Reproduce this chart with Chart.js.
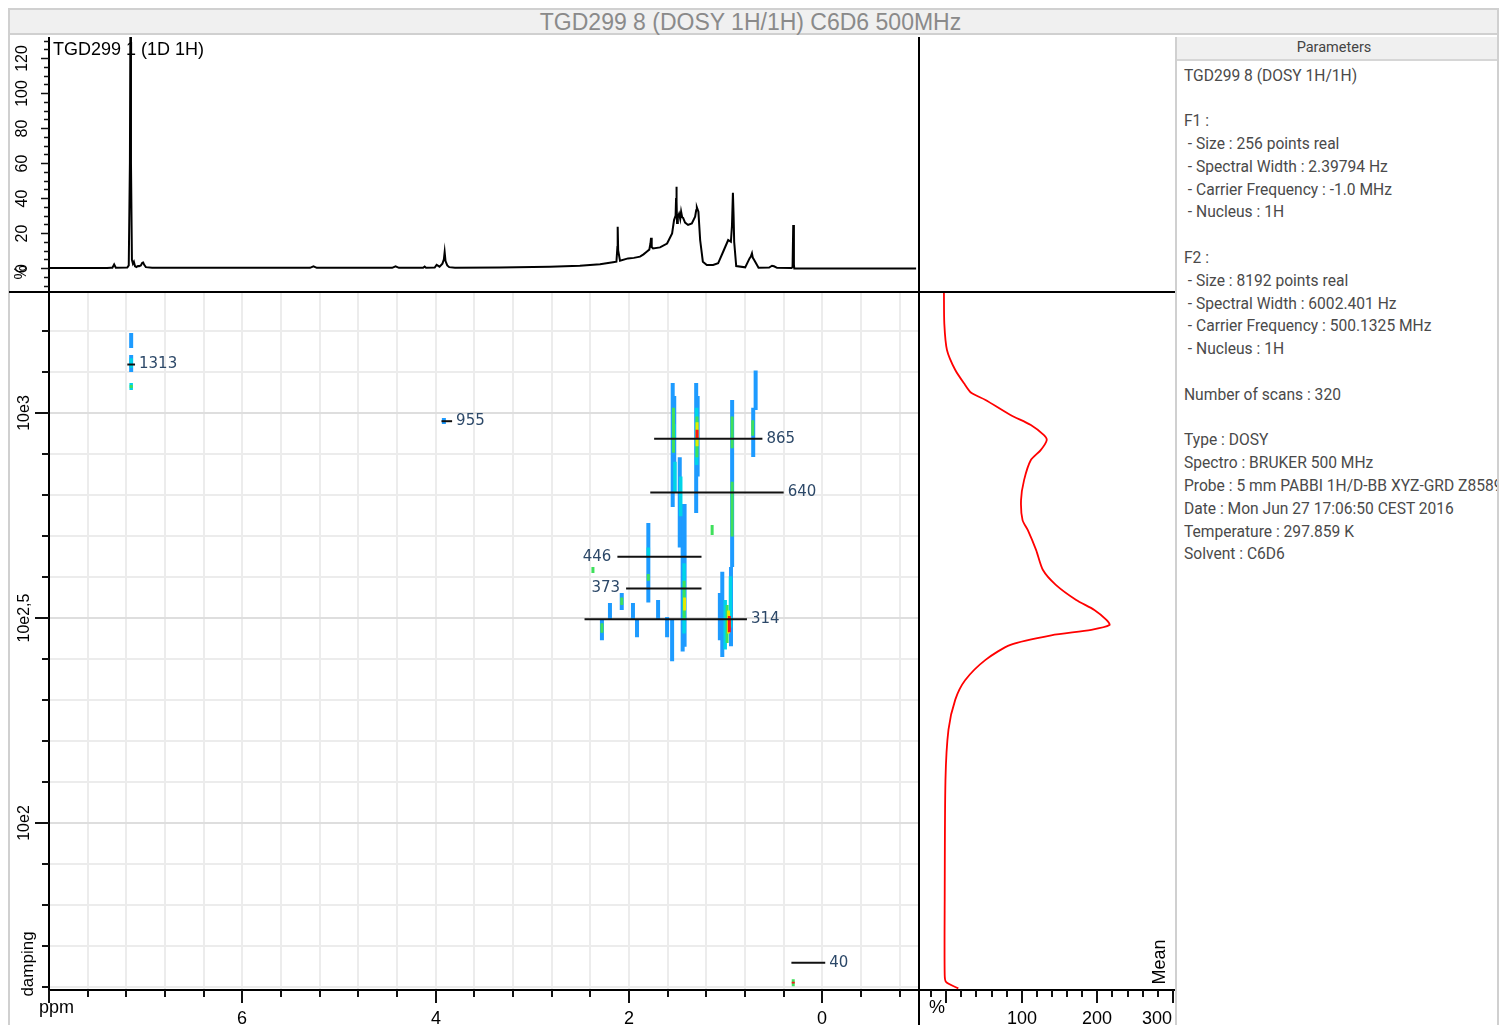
<!DOCTYPE html>
<html>
<head>
<meta charset="utf-8">
<script src="https://cdn.jsdelivr.net/npm/chart.js@4.4.0/dist/chart.umd.min.js"></script>
<style>
  body { margin: 0; background: #fff; width: 1504px; height: 1025px; overflow: hidden; font-family: "Liberation Sans", Arial, sans-serif; }
  .abs { position: absolute; }
  #frame { left: 8px; top: 8px; width: 1491px; height: 1100px; border: 2px solid #d0d0d0; box-sizing: border-box; }
  #title { left: 10px; top: 10px; width: 1487px; height: 25px; background: #f0f0f0; border-bottom: 2px solid #d0d0d0;
           color: #8a8a8a; font-size: 23px; line-height: 25px; text-align: center; padding-right: 6px; box-sizing: border-box; }
  #params { left: 1175px; top: 37px; width: 322px; height: 1000px; border-left: 2px solid #d0d0d0; overflow: hidden; box-sizing: border-box; }
  #params .head { height: 22px; background: #f0f0f0; border-bottom: 2px solid #d6d6d6; text-align: center; font-family: Roboto, sans-serif;
                  font-size: 14.5px; line-height: 22px; color: #444; padding-right: 6px; }
  #params .body { position: absolute; left: 7px; top: 27.6px; white-space: pre; font-family: Roboto, sans-serif; font-size: 15.6px;
                  line-height: 22.8px; color: #4a4a4a; }
  .blk { background: #000; }
</style>
</head>
<body>
<div id="frame" class="abs"></div>
<div id="title" class="abs">TGD299 8 (DOSY 1H/1H) C6D6 500MHz</div>

<canvas id="spec" class="abs" width="910" height="255" style="left:9px;top:37px"></canvas>
<canvas id="dosy" class="abs" width="910" height="733" style="left:9px;top:292px"></canvas>
<canvas id="mean" class="abs" width="256" height="733" style="left:919px;top:292px"></canvas>

<div class="abs blk" style="left:9px;top:291px;width:1166px;height:2px"></div>
<div class="abs blk" style="left:918px;top:37px;width:2px;height:990px"></div>

<div id="params" class="abs">
  <div class="head">Parameters</div>
  <div class="body">TGD299 8 (DOSY 1H/1H)

F1 :
 - Size : 256 points real
 - Spectral Width : 2.39794 Hz
 - Carrier Frequency : -1.0 MHz
 - Nucleus : 1H

F2 :
 - Size : 8192 points real
 - Spectral Width : 6002.401 Hz
 - Carrier Frequency : 500.1325 MHz
 - Nucleus : 1H

Number of scans : 320

Type : DOSY
Spectro : BRUKER 500 MHz
Probe : 5 mm PABBI 1H/D-BB XYZ-GRD Z8589
Date : Mon Jun 27 17:06:50 CEST 2016
Temperature : 297.859 K
Solvent : C6D6</div>
</div>

<script>
// 1D proton spectrum (top trace), ppm / % intensity
var specPpm = [8.00, 7.40, 7.36, 7.344, 7.326, 7.309, 7.19, 7.175, 7.163, 7.158, 7.152, 7.142, 7.132, 7.122, 7.11, 7.095,
  7.08, 7.067, 7.05, 7.035, 7.026, 7.015, 6.998, 6.933, 6.5, 5.30, 5.264, 5.23, 4.45, 4.415, 4.38, 4.13, 4.114, 4.10,
  4.01, 3.99, 3.96, 3.93, 3.915, 3.907, 3.898, 3.88, 3.86, 3.80, 3.337, 2.819, 2.508, 2.30, 2.166, 2.13, 2.120, 2.117,
  2.112, 2.093, 2.010, 1.95, 1.886, 1.85, 1.817, 1.79, 1.778, 1.772, 1.765, 1.751, 1.679, 1.606, 1.554, 1.534, 1.518,
  1.513, 1.510, 1.506, 1.503, 1.495, 1.482, 1.47, 1.461, 1.45, 1.440, 1.42, 1.389, 1.35, 1.316, 1.305, 1.298, 1.282, 1.264,
  1.236, 1.195, 1.130, 1.078, 1.026, 0.974, 0.946, 0.935, 0.925, 0.918, 0.912, 0.891, 0.798, 0.753, 0.740, 0.728, 0.72,
  0.705, 0.660, 0.55, 0.521, 0.50, 0.469, 0.32, 0.308, 0.301, 0.294, 0.290, -0.97];
var specInt = [0, 0, 0.2, 0.2, 2.1, 0.2, 0.3, 1.5, 60, 140, 60, 4.6, 2.5, 3.6, 1.0, 0.6,
  1.2, 1.1, 1.5, 3.0, 3.2, 1.8, 0.5, 0.2, 0.1, 0.1, 1.0, 0.1, 0.1, 1.0, 0.1, 0.1, 0.8, 0.1,
  0.3, 1.8, 0.8, 2.5, 5, 9.1, 4, 1.5, 0.5, 0.2, 0.3, 0.7, 1.3, 2.2, 3.3, 3.6, 12, 23.6,
  10, 4.2, 5.5, 5.8, 6.5, 7.8, 9.3, 10.5, 14, 17.3, 12, 11.2, 11.8, 14, 19.8, 27.4, 30,
  40, 46.5, 38, 25.7, 29, 31, 28, 32.2, 29, 28.6, 26, 24.6, 25.5, 29.3, 33, 34.7, 32.2, 16,
  3.6, 1.7, 1.7, 2.7, 9.3, 16, 15, 24, 43, 30, 15, 1.1, 0.4, 5.5, 6.5, 8.4, 6,
  4.6, 0.2, 0.3, 1.3, 1.0, 0.1, 0, 0.5, 24.6, 2, -0.3, -0.3];

// DOSY contour streaks: chemical shift (ppm), diffusion range (top / bottom), contour level 0..4
var streakPpm = [7.15, 7.15, 7.15, 7.15, 7.15, 3.915,
  1.548, 1.532, 1.540, 1.535, 1.525,
  1.475, 1.465, 1.445, 1.425, 1.43, 1.43, 1.425,
  1.305, 1.290, 1.300, 1.297, 1.296, 1.296,
  0.933, 0.933, 0.933,
  0.69, 0.715, 0.72,
  1.06, 1.035, 1.005, 0.985, 0.97, 0.962, 0.945, 0.95,
  1.80, 1.80, 1.80,
  1.554, 1.606, 1.699, 1.917, 1.959, 2.075, 2.075, 2.197, 2.28, 2.28, 2.373, 1.14,
  0.301, 0.301];
var streakTop = [1567, 1385, 1360, 1184, 1170, 972,
  1184, 1100, 1030, 940, 760,
  780, 700, 600, 600, 430, 390, 355,
  1184, 1100, 1030, 980, 950, 910,
  1076, 980, 680,
  1270, 1030, 960,
  364, 410, 350, 340, 330, 320, 421, 400,
  539, 470, 405,
  313, 318, 350, 313, 344, 364, 355, 344, 313, 307, 421, 533,
  41.6, 41.0];
var streakBottom = [1441, 1259, 1290, 1138, 1150, 940,
  590, 640, 800, 860, 640,
  470, 560, 262, 269, 290, 315, 330,
  570, 700, 747, 780, 830, 865,
  421, 820, 500,
  1017, 781, 880,
  279, 254, 265, 275, 290, 292, 270, 300,
  345, 445, 390,
  248, 284, 313, 284, 313, 331, 340, 313, 279, 291, 407, 504,
  40.0, 40.6];
var streakLevel = [0, 0, 1, 1, 2, 0,
  0, 0, 2, 1, 1,
  0, 1, 0, 0, 1, 2, 3,
  0, 0, 1, 2, 3, 4,
  0, 2, 2,
  0, 0, 2,
  0, 0, 1, 2, 3, 4, 0, 1,
  0, 1, 2,
  0, 0, 0, 0, 0, 0, 2, 0, 0, 2, 2, 2,
  2, 4];

// picked diffusion values with their marker lines
var markerValue = [1313, 955, 865, 640, 446, 373, 314, 40];
var markerLineD = [1313, 955, 865, 640, 446, 373, 314, 45.6];
var markerFrom = [7.19, 3.94, 1.74, 1.78, 2.12, 2.03, 2.46, 0.32];
var markerTo = [7.11, 3.83, 0.62, 0.40, 1.25, 1.25, 0.78, -0.03];

// mean projection (right panel): diffusion value / percent
var meanD = [1973, 1650, 1425, 1273, 1171, 1120, 1076, 989, 935, 884, 859, 812, 768, 686, 613, 548, 518, 463, 414, 381,
  350, 331, 313, 304, 296, 287, 272, 250, 223, 200, 169, 127, 65, 42.6, 40.9, 39.5];
var meanPct = [-3, -2.5, 1, 12, 25, 33, 52, 85, 112, 129, 133, 125, 112, 103, 99, 101, 108, 119, 128, 145,
  172, 196, 212, 216, 192, 139, 85, 52, 25, 12, 3, -1, -2, -2, 0, 16];

// axis ticks
var ppmTicks = [];
for (var k = 0; k <= 22; k++) ppmTicks.push(+(8 - 0.4 * k).toFixed(1));
var logTicks = [];
for (var k = 16; k <= 32; k++) logTicks.push(Math.pow(10, k / 10));
var intTicks = [];
for (var v = -10; v <= 130; v += 5) intTicks.push(v);
var pctTicks = [];
for (var v = -20; v <= 300; v += 20) pctTicks.push(v);

var dMin = 39.15, dMax = 1973;
var levelColor = ['#1e9bff', '#00d4e8', '#3fe05c', '#e6ea00', '#ff1414'];
var levelWidth = [4, 3.5, 3, 3, 3];
var AXFONT = '"Liberation Sans", Arial, sans-serif';

function rotText(ctx, text, x, y, size) {
    ctx.save();
    ctx.translate(x, y);
    ctx.rotate(-Math.PI / 2);
    ctx.font = size + 'px ' + AXFONT;
    ctx.textAlign = 'center';
    ctx.textBaseline = 'middle';
    ctx.fillStyle = '#000';
    ctx.fillText(text, 0, 0);
    ctx.restore();
}

function tick(ctx, x1, y1, x2, y2) {
    ctx.beginPath();
    ctx.moveTo(x1, y1);
    ctx.lineTo(x2, y2);
    ctx.stroke();
}

var baseOpts = {
    responsive: false,
    maintainAspectRatio: false,
    animation: false,
    layout: { padding: 0 },
    plugins: { legend: { display: false }, tooltip: { enabled: false } }
};

// ---------- top 1D spectrum ----------
var specPoints = specPpm.map(function(p, i) { return { x: p, y: specInt[i] }; });
new Chart(document.getElementById('spec'), {
    type: 'scatter',
    data: { datasets: [{ data: specPoints, showLine: true, borderColor: '#000', borderWidth: 2, pointRadius: 0, tension: 0 }] },
    options: Object.assign({}, baseOpts, {
        scales: {
            x: { type: 'linear', reverse: true, min: -1, max: 8, display: false },
            y: {
                type: 'linear', min: -13.7, max: 132,
                afterFit: function(s) { s.width = 40; },
                afterBuildTicks: function(s) { s.ticks = intTicks.map(function(v) { return { value: v }; }); },
                ticks: { display: false },
                grid: { display: false, drawTicks: false },
                border: { display: true, color: '#000', width: 2 }
            }
        }
    }),
    plugins: [{
        id: 'specAxes',
        beforeDatasetsDraw: function(chart) {
            var ctx = chart.ctx;
            ctx.save();
            ctx.font = '18px ' + AXFONT;
            ctx.fillStyle = '#000';
            ctx.textBaseline = 'middle';
            ctx.fillText('TGD299 1 (1D 1H)', 44, 13);
            ctx.restore();
        },
        afterDraw: function(chart) {
            var ctx = chart.ctx, ys = chart.scales.y, a = chart.chartArea;
            ctx.save();
            ctx.strokeStyle = '#111';
            ctx.lineWidth = 1.5;
            intTicks.forEach(function(v) {
                var py = Math.round(ys.getPixelForValue(v)) + 0.5;
                var major = v % 20 === 0;
                tick(ctx, a.left - (major ? 8 : 5), py, a.left, py);
                if (major && v >= 0 && v <= 120) rotText(ctx, String(v), 14, py, 16);
            });
            rotText(ctx, '%', 13, ys.getPixelForValue(-2.5), 16);
            ctx.restore();
        }
    }]
});

// ---------- DOSY map ----------
var dosySets = [];
markerValue.forEach(function(m, i) {
    dosySets.push({
        data: [{ x: markerFrom[i], y: markerLineD[i] }, { x: markerTo[i], y: markerLineD[i] }],
        showLine: true, borderColor: '#111', borderWidth: 2, pointRadius: 0, order: 0
    });
});
streakPpm.forEach(function(p, i) {
    var lv = streakLevel[i];
    dosySets.push({
        data: [{ x: p, y: streakTop[i] }, { x: p, y: streakBottom[i] }],
        showLine: true, borderColor: levelColor[lv], borderWidth: levelWidth[lv], borderCapStyle: 'butt',
        pointRadius: 0, order: 10 - lv
    });
});

new Chart(document.getElementById('dosy'), {
    type: 'scatter',
    data: { datasets: dosySets },
    options: Object.assign({}, baseOpts, {
        scales: {
            x: {
                type: 'linear', reverse: true, min: -1, max: 8,
                afterFit: function(s) { s.height = 35; },
                afterBuildTicks: function(s) { s.ticks = ppmTicks.map(function(v) { return { value: v }; }); },
                ticks: { display: false },
                grid: { color: '#ececec', lineWidth: 2, drawTicks: false },
                border: { display: true, color: '#000', width: 2 }
            },
            y: {
                type: 'logarithmic', min: dMin, max: dMax,
                afterFit: function(s) { s.width = 40; },
                afterBuildTicks: function(s) { s.ticks = logTicks.map(function(v) { return { value: v }; }); },
                ticks: { display: false },
                grid: {
                    color: function(c) {
                        var l = Math.log10(c.tick.value) * 2;
                        return Math.abs(l - Math.round(l)) < 1e-6 ? '#dedede' : '#ececec';
                    },
                    lineWidth: 2, drawTicks: false
                },
                border: { display: true, color: '#000', width: 2 }
            }
        }
    }),
    plugins: [{
        id: 'dosyAxes',
        afterDatasetsDraw: function(chart) {
            var ctx = chart.ctx, xs = chart.scales.x, ys = chart.scales.y;
            ctx.save();
            ctx.font = '15px "DejaVu Sans", Verdana, sans-serif';
            ctx.fillStyle = '#2c4868';
            ctx.textBaseline = 'middle';
            markerValue.forEach(function(m, i) {
                var py = ys.getPixelForValue(markerLineD[i]);
                if (m === 446 || m === 373) {
                    ctx.textAlign = 'right';
                    ctx.fillText(String(m), xs.getPixelForValue(markerFrom[i]) - 6, py);
                } else {
                    ctx.textAlign = 'left';
                    ctx.fillText(String(m), xs.getPixelForValue(markerTo[i]) + 4, py);
                }
            });
            ctx.restore();
        },
        afterDraw: function(chart) {
            var ctx = chart.ctx, xs = chart.scales.x, ys = chart.scales.y, a = chart.chartArea;
            ctx.save();
            ctx.strokeStyle = '#111';
            ctx.lineWidth = 2;
            ctx.fillStyle = '#000';
            ppmTicks.forEach(function(v) {
                var px = Math.round(xs.getPixelForValue(v));
                var major = Math.abs(v / 2 - Math.round(v / 2)) < 1e-6;
                tick(ctx, px, a.bottom, px, a.bottom + (major ? 13 : 7));
                if (major && v < 7.9) {
                    ctx.font = '18px ' + AXFONT;
                    ctx.textAlign = 'center';
                    ctx.textBaseline = 'middle';
                    ctx.fillText(String(Math.round(v)), px, a.bottom + 29);
                }
            });
            logTicks.forEach(function(v) {
                var py = Math.round(ys.getPixelForValue(v));
                var l = Math.log10(v) * 2;
                var major = Math.abs(l - Math.round(l)) < 1e-6;
                tick(ctx, a.left - (major ? 14 : 7), py, a.left, py);
                if (major) {
                    var e = Math.round(l) / 2;
                    rotText(ctx, '10e' + String(e).replace('.', ','), 16, py, 16);
                }
            });
            ctx.font = '18px ' + AXFONT;
            ctx.textAlign = 'left';
            ctx.textBaseline = 'middle';
            ctx.fillText('ppm', 30, 716);
            rotText(ctx, 'damping', 19, 672, 17);
            ctx.restore();
        }
    }]
});

// ---------- mean projection ----------
var meanPoints = meanD.map(function(d, i) { return { x: meanPct[i], y: d }; });
new Chart(document.getElementById('mean'), {
    type: 'scatter',
    data: { datasets: [{ data: meanPoints, showLine: true, borderColor: '#ff0000', borderWidth: 1.8, pointRadius: 0, tension: 0.25 }] },
    options: Object.assign({}, baseOpts, {
        scales: {
            x: {
                type: 'linear', min: -36, max: 302.7,
                afterFit: function(s) { s.height = 35; },
                afterBuildTicks: function(s) { s.ticks = pctTicks.map(function(v) { return { value: v }; }); },
                ticks: { display: false },
                grid: { display: false, drawTicks: false },
                border: { display: true, color: '#000', width: 2 }
            },
            y: { type: 'logarithmic', min: dMin, max: dMax, display: false }
        }
    }),
    plugins: [{
        id: 'meanAxes',
        afterDraw: function(chart) {
            var ctx = chart.ctx, xs = chart.scales.x, a = chart.chartArea;
            ctx.save();
            ctx.strokeStyle = '#111';
            ctx.lineWidth = 2;
            ctx.fillStyle = '#000';
            ctx.font = '18px ' + AXFONT;
            ctx.textBaseline = 'middle';
            pctTicks.forEach(function(v) {
                var px = Math.round(xs.getPixelForValue(v));
                var major = v % 100 === 0;
                tick(ctx, px, a.bottom, px, a.bottom + (major ? 13 : 7));
                if (major && v > 0) {
                    var w = ctx.measureText(String(v)).width;
                    if (px + w / 2 > chart.width - 3) {
                        ctx.textAlign = 'right';
                        ctx.fillText(String(v), chart.width - 3, a.bottom + 29);
                    } else {
                        ctx.textAlign = 'center';
                        ctx.fillText(String(v), px, a.bottom + 29);
                    }
                }
            });
            ctx.textAlign = 'left';
            ctx.fillText('%', 10, 716);
            rotText(ctx, 'Mean', 241, 670, 18);
            ctx.restore();
        }
    }]
});
</script>
</body>
</html>
